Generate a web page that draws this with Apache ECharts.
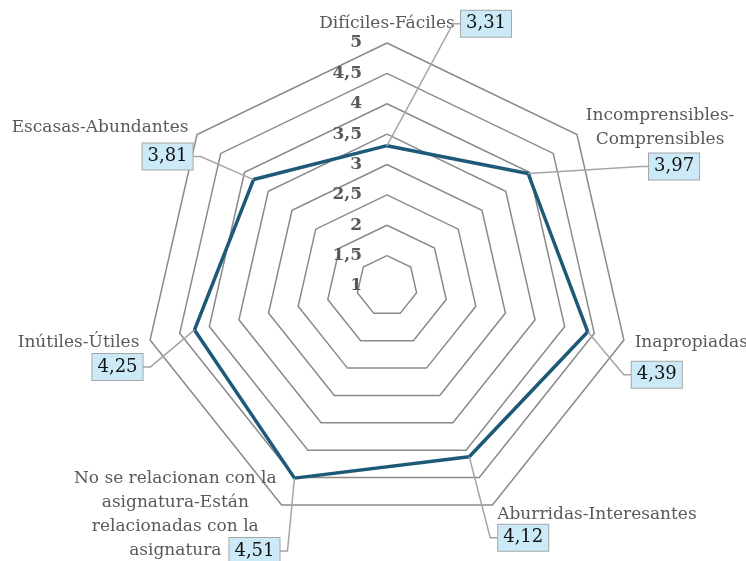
<!DOCTYPE html>
<html><head><meta charset="utf-8">
<script src="https://cdn.jsdelivr.net/npm/echarts@6/dist/echarts.min.js"></script>
<style>html,body{margin:0;padding:0;background:#fff}#c{width:746px;height:561px}</style>
</head><body><div id="c"></div>
<script>
// ---- data (clockwise from the top, as in the source chart) ----
const categories = [
  'Difíciles-Fáciles',
  'Incomprensibles-\nComprensibles',
  'Inapropiadas-Apropiadas',
  'Aburridas-Interesantes',
  'No se relacionan con la\nasignatura-Están\nrelacionadas con la\nasignatura',
  'Inútiles-Útiles',
  'Escasas-Abundantes'
];
const values = [3.31, 3.97, 4.39, 4.12, 4.51, 4.25, 3.81];
const scaleMin = 1, scaleMax = 5, scaleStep = 0.5;

// ---- layout: value-box centre offset from its point (px), same order ----
const boxOffsets = [[99,-122],[146,-7],[69,43],[54,81],[-40,73],[-77,37],[-86,-23]];

// ECharts radar runs counter-clockwise, so reorder
const order = [0,6,5,4,3,2,1];
const rCats = order.map(i => categories[i]);
const rVals = order.map(i => values[i]);
const rOffsets = order.map(i => boxOffsets[i]);
const fmt = v => String(v).replace('.', ',');

const CENTER = [387, 286], RADIUS = 243;
const FONT = 'DejaVu Serif';

// rich styles to centre multi-line names within their block
const ctx = document.createElement('canvas').getContext('2d');
ctx.font = '17px "DejaVu Serif"';
const rich = {};
rCats.forEach((n, i) => {
  if (n.indexOf('\n') >= 0) {
    const w = Math.max(...n.split('\n').map(l => ctx.measureText(l).width));
    rich['l' + i] = {width: Math.ceil(w), align: 'center', lineHeight: 24,
      fontFamily: FONT, fontSize: 17, color: '#595959'};
  }
});

const chart = echarts.init(document.getElementById('c'), null, {renderer: 'canvas'});
chart.setOption({
  animation: false,
  backgroundColor: '#ffffff',
  radar: {
    center: CENTER, radius: RADIUS, startAngle: 90, splitNumber: 8, shape: 'polygon',
    indicator: rCats.map(n => ({name: n, min: scaleMin, max: scaleMax})),
    nameGap: 11,
    axisName: {
      color: '#595959', fontFamily: FONT, fontSize: 17, rich: rich,
      formatter: function (name) {
        const i = rCats.indexOf(name);
        if (rich['l' + i]) return name.split('\n').map(l => '{l' + i + '|' + l + '}').join('\n');
        return name;
      }
    },
    axisLine: {show: false}, axisTick: {show: false}, axisLabel: {show: false},
    splitLine: {lineStyle: {color: '#8a8a8a', width: 1.5}},
    splitArea: {show: false}
  },
  polar: {center: CENTER, radius: RADIUS},
  angleAxis: {type: 'value', min: 0, max: rCats.length, startAngle: 90, clockwise: false, show: false},
  radiusAxis: {
    type: 'value', min: scaleMin, max: scaleMax, interval: scaleStep,
    axisLine: {show: false}, axisTick: {show: false}, splitLine: {show: false},
    axisLabel: {formatter: fmt, fontFamily: FONT, fontWeight: 'bold', fontSize: 17, color: '#595959',
      margin: 25, padding: [4, 0, 0, 0]}
  },
  series: [
    {
      type: 'radar', radarIndex: 0, symbol: 'none',
      lineStyle: {color: '#1d5a78', width: 3.5},
      data: [{value: rVals}]
    },
    {
      type: 'custom', coordinateSystem: 'polar', clip: false,
      data: rVals.map((v, i) => [v, i]),
      renderItem: function (params, api) {
        const i = params.dataIndex;
        const p = api.coord([api.value(0), api.value(1)]);
        const off = rOffsets[i];
        const cx = p[0] + off[0], cy = p[1] + off[1];
        const hw = 25;
        const edgeX = off[0] > 0 ? cx - hw : cx + hw;
        const elbowX = off[0] > 0 ? edgeX - 8 : edgeX + 8;
        return {
          type: 'group',
          children: [
            {type: 'polyline', shape: {points: [p, [elbowX, cy], [edgeX, cy]]},
             style: {stroke: '#a6a6a6', lineWidth: 1.5, fill: null}},
            {type: 'text', x: cx, y: cy,
             style: {text: fmt(api.value(0)), align: 'center', verticalAlign: 'middle',
               fill: '#111111', font: '18px "DejaVu Serif"', backgroundColor: '#cbe9f6',
               borderColor: '#a6a6a6', borderWidth: 1, padding: [4, 5]}}
          ]
        };
      }
    }
  ]
});
</script></body></html>
